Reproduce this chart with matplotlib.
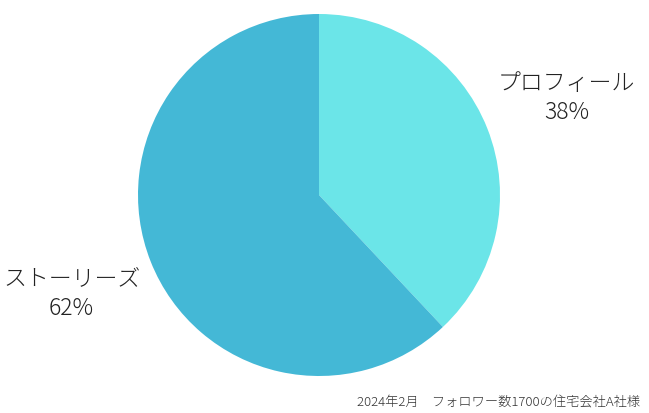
import matplotlib.pyplot as plt

plt.rcParams['font.family'] = ['Noto Sans CJK JP', 'DejaVu Sans']

labels = ['プロフィール', 'ストーリーズ']
values = [38, 62]
colors = ['#6BE5E8', '#44B8D6']
note = '2024年2月　フォロワー数1700の住宅会社A社様'

fig = plt.figure(figsize=(6.49, 4.14), dpi=100)
ax = fig.add_axes([(319 - 181) / 649, (414 - 196 - 181) / 414, 362 / 649, 362 / 414])

wedges, texts = ax.pie(values, colors=colors, startangle=90, counterclock=False,
                       labels=[f'{l}\n{v}%' for l, v in zip(labels, values)],
                       labeldistance=1.47,
                       textprops={'fontsize': 16.5, 'color': '#222222', 'linespacing': 1.25,
                                  'fontweight': 'light'})
for t in texts:
    t.set_ha('center')
ax.set_xlim(-1, 1)
ax.set_ylim(-1, 1)
ax.set_aspect('equal')

fig.text(640 / 649, 1 - 402 / 414, note, ha='right', va='center', fontsize=9.5,
         color='#333333', fontweight='light')

fig.savefig('out.png', dpi=100)
